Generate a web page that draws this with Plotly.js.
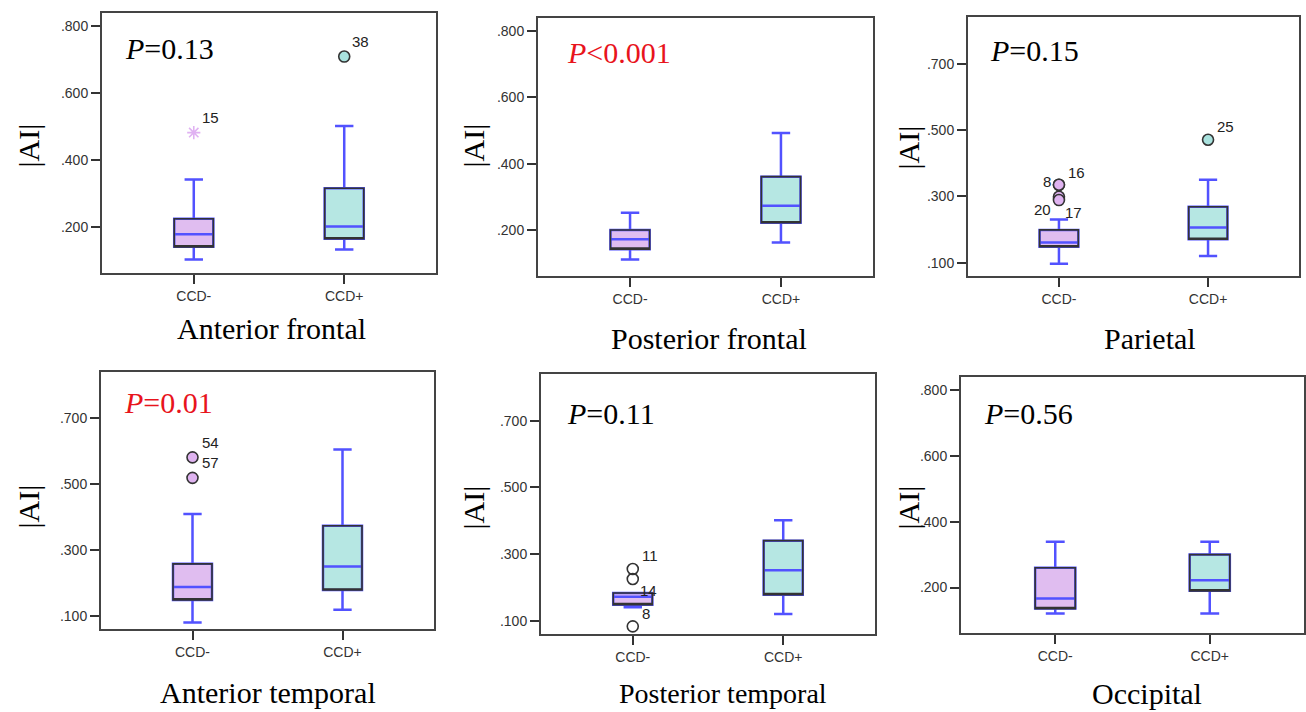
<!DOCTYPE html>
<html>
<head>
<meta charset="utf-8">
<script src="https://cdn.plot.ly/plotly-3.0.1.min.js"></script>
<style>
html,body{margin:0;padding:0;background:#fff;}
#chart{width:1306px;height:712px;}
</style>
</head>
<body>
<div id="chart"></div>
<script>
// ---------------- DATA ----------------
const regions = ["Anterior frontal", "Posterior frontal", "Parietal", "Anterior temporal", "Posterior temporal", "Occipital"];
const pValues = ["=0.13", "<0.001", "=0.15", "=0.01", "=0.11", "=0.56"];
const pSignificant = [false, true, false, true, false, false];
const groups = ["CCD-", "CCD+"];

// CCD- box statistics per region
const negLower  = [0.102, 0.111, 0.097, 0.082, 0.140, 0.121];
const negQ1     = [0.140, 0.142, 0.148, 0.150, 0.148, 0.136];
const negMedian = [0.178, 0.172, 0.161, 0.189, 0.172, 0.167];
const negQ3     = [0.224, 0.200, 0.199, 0.259, 0.183, 0.260];
const negUpper  = [0.341, 0.252, 0.230, 0.410, 0.183, 0.339];

// CCD+ box statistics per region
const posLower  = [0.132, 0.162, 0.120, 0.120, 0.120, 0.121];
const posQ1     = [0.164, 0.222, 0.171, 0.180, 0.178, 0.190];
const posMedian = [0.201, 0.273, 0.206, 0.251, 0.251, 0.222];
const posQ3     = [0.315, 0.361, 0.269, 0.374, 0.340, 0.300];
const posUpper  = [0.501, 0.493, 0.350, 0.605, 0.401, 0.339];

// Outliers (panel index, group index, value, case label)
const outPanel = [0, 0, 2, 2, 2, 2, 2, 3, 3, 4, 4, 4];
const outGroup = [0, 1, 0, 0, 0, 0, 1, 0, 0, 0, 0, 0];
const outValue = [0.481, 0.708, 0.335, 0.335, 0.299, 0.289, 0.471, 0.581, 0.519, 0.255, 0.225, 0.083];
const outLabel = ["15", "38", "16", "8", "20", "17", "25", "54", "", "11", "", "8"];
const outExtreme = [true, false, false, false, false, false, false, false, false, false, false, false];
const outSecondLabel = ["", "", "", "", "", "", "", "57", "", "", "", ""];

// Extra case label sitting on the Posterior temporal CCD- box
const boxLabelPanel = 4, boxLabelText = "14";

// Y tick labels
const ticksEven = [0.2, 0.4, 0.6, 0.8];
const ticksEvenText = [".200", ".400", ".600", ".800"];
const ticksOdd = [0.1, 0.3, 0.5, 0.7];
const ticksOddText = [".100", ".300", ".500", ".700"];
const panelTickSet = ["even", "even", "odd", "odd", "odd", "even"];

// ---------------- LAYOUT CONFIG ----------------
const W = 1306, H = 712;
const frames = [
  {l:102, r:436, t:13,  b:273},
  {l:538, r:873, t:18,  b:276},
  {l:968, r:1299, t:17, b:276},
  {l:101, r:434, t:372, b:629},
  {l:541, r:875, t:374, b:634},
  {l:961, r:1304, t:377, b:633}
];
const yRanges = [[0.062,0.838],[0.061,0.840],[0.060,0.841],[0.062,0.839],[0.060,0.840],[0.062,0.839]];
const pPos = [{x:123,y:49},{x:565,y:52.5},{x:988,y:50.5},{x:122,y:402.5},{x:565,y:413},{x:982,y:413}];
const yTitlePos = [{x:27.5,y:146},{x:472.5,y:146},{x:907.5,y:147},{x:27.5,y:507},{x:472.5,y:508},{x:907.5,y:507}];
const subPos = [{x:271,y:329},{x:709,y:338},{x:1150,y:338},{x:268,y:692},{x:723,y:693},{x:1147,y:693}];
const subSize = [30, 30, 30, 30, 28, 30];
// label offsets for outlier labels: [xshift, yshift, anchor]
const labelOffsets = [[6,15,"left"],[6,15,"left"],[7,12,"left"],[-6,3,"right"],[-6,-13,"right"],[4,-12,"left"],[7,13,"left"],[7,15,"left"],[0,0,"left"],[7,14,"left"],[0,0,"left"],[7,13,"left"]];
const secondLabelOffset = [7,-5];

const SERIF = "Times New Roman, Liberation Serif, serif";
const SANS = "Arial, Liberation Sans, sans-serif";
const fillNeg = "#e0bdf0", fillPos = "#b6e7e3";
const outFillNeg = "#dfb3f0", outFillPos = "#a9e2de";
const starColor = "#e0b2f2";
const blue = "#5252ff", dark = "#333333";
const BOXW = 0.26, WHISK = 0.47;

const traces = [];
const layout = {
  width: W, height: H,
  margin: {l:0, r:0, t:0, b:0},
  paper_bgcolor: "#ffffff", plot_bgcolor: "#ffffff",
  showlegend: false, hovermode: false,
  boxmode: "overlay",
  annotations: [], shapes: []
};

for (let i = 0; i < 6; i++) {
  const n = i + 1;
  const xa = "x" + (n === 1 ? "" : n), ya = "y" + (n === 1 ? "" : n);
  const f = frames[i];
  const even = panelTickSet[i] === "even";
  layout["xaxis" + (n === 1 ? "" : n)] = {
    domain: [f.l / W, f.r / W], anchor: ya,
    type: "category", categoryorder: "array", categoryarray: groups,
    range: [-0.61, 1.61], fixedrange: true,
    showline: true, mirror: true, linecolor: "#444", linewidth: 2,
    ticks: "outside", ticklen: 9, tickwidth: 2, tickcolor: dark,
    showgrid: false, zeroline: false,
    tickfont: {family: SANS, size: 14, color: dark}
  };
  layout["yaxis" + (n === 1 ? "" : n)] = {
    domain: [1 - f.b / H, 1 - f.t / H], anchor: xa,
    range: yRanges[i], fixedrange: true,
    showline: true, mirror: true, linecolor: "#444", linewidth: 2,
    ticks: "outside", ticklen: 9, tickwidth: 2, tickcolor: dark,
    tickmode: "array",
    tickvals: even ? ticksEven : ticksOdd,
    ticktext: even ? ticksEvenText : ticksOddText,
    showgrid: false, zeroline: false,
    tickfont: {family: SANS, size: 14, color: dark}
  };

  const stats = [
    {lo: negLower[i], q1: negQ1[i], md: negMedian[i], q3: negQ3[i], hi: negUpper[i], fill: fillNeg},
    {lo: posLower[i], q1: posQ1[i], md: posMedian[i], q3: posQ3[i], hi: posUpper[i], fill: fillPos}
  ];
  stats.forEach((s, g) => {
    // filled box with blue whiskers + median
    traces.push({
      type: "box", xaxis: xa, yaxis: ya, x: [groups[g]],
      q1: [s.q1], median: [s.md], q3: [s.q3], lowerfence: [s.lo], upperfence: [s.hi],
      width: BOXW, whiskerwidth: WHISK, boxpoints: false,
      fillcolor: s.fill, line: {color: blue, width: 2.5}, hoverinfo: "skip"
    });
    // dark outline of the box
    traces.push({
      type: "box", xaxis: xa, yaxis: ya, x: [groups[g]],
      q1: [s.q1], median: [s.q1], q3: [s.q3], lowerfence: [s.q1], upperfence: [s.q3],
      width: BOXW, whiskerwidth: 1, boxpoints: false,
      fillcolor: "rgba(0,0,0,0)", line: {color: dark, width: 1.6}, hoverinfo: "skip"
    });
  });

  // texts
  layout.annotations.push({
    xref: "paper", yref: "paper", x: pPos[i].x / W, y: 1 - pPos[i].y / H,
    xanchor: "left", yanchor: "middle", showarrow: false,
    text: "<i>P</i>" + pValues[i],
    font: {family: SERIF, size: 30, color: pSignificant[i] ? "#e8141c" : "#000000"}
  });
  layout.annotations.push({
    xref: "paper", yref: "paper", x: yTitlePos[i].x / W, y: 1 - yTitlePos[i].y / H,
    xanchor: "center", yanchor: "middle", showarrow: false, textangle: -90,
    text: "|AI|", font: {family: SERIF, size: 30, color: "#000000"}
  });
  layout.annotations.push({
    xref: "paper", yref: "paper", x: subPos[i].x / W, y: 1 - subPos[i].y / H,
    xanchor: "center", yanchor: "middle", showarrow: false,
    text: regions[i], font: {family: SERIF, size: subSize[i], color: "#000000"}
  });
}

// outliers
for (let k = 0; k < outValue.length; k++) {
  const n = outPanel[k] + 1;
  const xa = "x" + (n === 1 ? "" : n), ya = "y" + (n === 1 ? "" : n);
  const g = outGroup[k];
  const hollow = outPanel[k] === 4;
  let marker;
  if (outExtreme[k]) {
    marker = {symbol: "asterisk-open", size: 11, color: starColor, line: {color: starColor, width: 1.6}};
  } else {
    marker = {symbol: "circle", size: 11,
      color: hollow ? "rgba(255,255,255,0)" : (g === 0 ? outFillNeg : outFillPos),
      line: {color: dark, width: 1.6}};
  }
  traces.push({type: "scatter", mode: "markers", xaxis: xa, yaxis: ya,
    x: [groups[g]], y: [outValue[k]], marker: marker, hoverinfo: "skip", cliponaxis: false});
  if (outLabel[k]) {
    const o = labelOffsets[k];
    layout.annotations.push({xref: xa, yref: ya, x: g, y: outValue[k], xshift: o[0], yshift: o[1],
      xanchor: o[2], yanchor: "middle", showarrow: false, text: outLabel[k],
      font: {family: SANS, size: 15, color: "#222"}});
  }
  if (outSecondLabel[k]) {
    layout.annotations.push({xref: xa, yref: ya, x: g, y: outValue[k],
      xshift: secondLabelOffset[0], yshift: secondLabelOffset[1],
      xanchor: "left", yanchor: "middle", showarrow: false, text: outSecondLabel[k],
      font: {family: SANS, size: 15, color: "#222"}});
  }
}
// label on the Posterior temporal CCD- box
{
  const n = boxLabelPanel + 1;
  layout.annotations.push({xref: "x" + n, yref: "y" + n, x: 0, y: negQ3[boxLabelPanel],
    xshift: 5, yshift: 3, xanchor: "left", yanchor: "middle", showarrow: false,
    text: boxLabelText, font: {family: SANS, size: 15, color: "#222"}});
}

Plotly.newPlot("chart", traces, layout, {staticPlot: true, displayModeBar: false});
</script>
</body>
</html>
